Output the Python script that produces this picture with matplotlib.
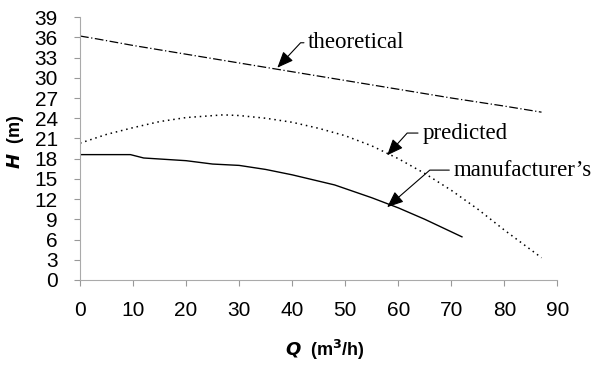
import matplotlib
matplotlib.use("Agg")
import matplotlib.pyplot as plt

# Data
q_theo = [0, 3, 10, 20, 30, 40, 50, 60, 70, 80, 87]
h_theo = [36.2, 35.8, 34.8, 33.5, 32.2, 30.9, 29.6, 28.3, 27.0, 25.8, 24.9]

q_pred = [0, 5, 10, 15, 20, 27, 30, 35, 40, 45, 50, 55, 60, 65, 70, 75, 80, 87]
h_pred = [20.3, 21.6, 22.6, 23.5, 24.1, 24.5, 24.4, 24.0, 23.4, 22.5, 21.4, 19.9, 18.0, 15.8, 13.3, 10.5, 7.4, 3.3]

q_manu = [0, 9.5, 12, 20, 25, 30, 35, 40, 48, 55, 60, 65, 72]
h_manu = [18.6, 18.6, 18.1, 17.7, 17.2, 17.0, 16.4, 15.6, 14.1, 12.2, 10.7, 9.0, 6.4]

xticks = [0, 10, 20, 30, 40, 50, 60, 70, 80, 90]
yticks = list(range(0, 40, 3))

plt.rcParams['font.family'] = ['Liberation Sans', 'DejaVu Sans']

fig = plt.figure(figsize=(5.99, 3.65), dpi=100)
ax = fig.add_axes([0.1336, 0.233, 0.797, 0.72])

ax.plot(q_theo, h_theo, color='black', lw=0.9, linestyle=(0, (7, 2, 1, 2)))
ax.plot(q_pred, h_pred, color='black', lw=1.1, linestyle=(0, (1, 2.5)))
ax.plot(q_manu, h_manu, color='black', lw=1.0, linestyle='-')

ax.set_xlim(0, 90)
ax.set_ylim(0, 39)
ax.set_xticks(xticks)
ax.set_yticks(yticks)
ax.tick_params(axis='both', labelsize=15, colors='#999999', labelcolor='black',
               length=4, width=0.8)
ax.tick_params(axis='x', pad=11)
ax.tick_params(axis='y', pad=12)
for s in ['top', 'right']:
    ax.spines[s].set_visible(False)
for s in ['left', 'bottom']:
    ax.spines[s].set_color('#aaaaaa')
    ax.spines[s].set_linewidth(0.8)

fig.text(325 / 599, 1 - 350 / 365, r'$\boldsymbol{Q}$  (m$^{\mathbf{3}}$/h)', fontsize=13,
         fontweight='bold', ha='center', va='center')
fig.text(15 / 599, 1 - 142 / 365, r'$\boldsymbol{H}$  (m)', rotation=90, fontsize=13,
         fontweight='bold', ha='center', va='center')

annots = [
    ('theoretical', (37.2, 31.5), (43.0, 35.2), 47),
    ('predicted', (57.9, 18.5), (64.5, 21.8), 48),
    ("manufacturer\u2019s", (57.9, 10.8), (70.4, 16.3), 41),
]
for txt, tip, tpos, ang in annots:
    ax.annotate(txt, xy=tip, xytext=tpos, textcoords='data', fontsize=16.5,
                family=['Liberation Serif', 'DejaVu Serif'], ha='left', va='center',
                arrowprops=dict(arrowstyle='-|>,head_length=0.6,head_width=0.25',
                                color='black', lw=0.8, shrinkA=1, shrinkB=0,
                                relpos=(0, 0.5),
                                connectionstyle=f'angle,angleA=0,angleB={ang},rad=0'),
                annotation_clip=False)

fig.savefig('out.png', dpi=100)
